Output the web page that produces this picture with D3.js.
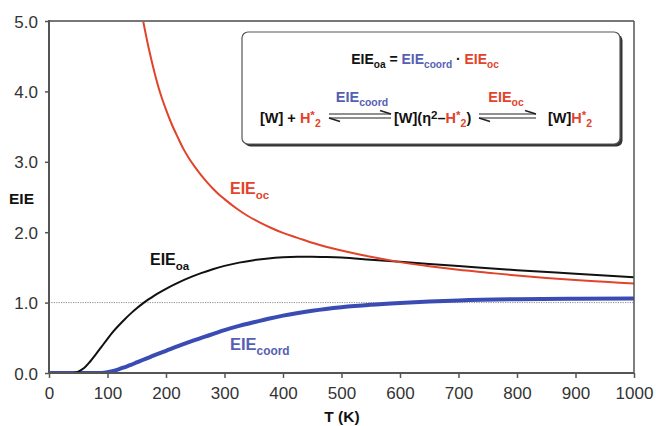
<!DOCTYPE html>
<html><head><meta charset="utf-8">
<script src="https://cdn.jsdelivr.net/npm/d3@7"></script>
<style>body{margin:0;background:#fff}svg{display:block}</style>
</head><body><svg id="c" width="656" height="426"></svg>
<script>
// Data
const ocT = [160,170,180,190,200,210,220,230,240,250,260,270,280,290,300,320,340,360,380,400,425,450,475,500,550,600,650,700,750,800,850,900,950,1000];
const ocV = [5.04,4.63,4.28,3.98,3.74,3.53,3.35,3.18,3.04,2.92,2.81,2.71,2.62,2.54,2.47,2.34,2.23,2.14,2.06,1.99,1.92,1.85,1.79,1.74,1.65,1.575,1.515,1.465,1.425,1.385,1.35,1.32,1.295,1.27];
const oaT = [0,40,50,60,70,80,90,100,110,120,130,140,150,160,170,180,190,200,220,240,260,280,300,325,350,375,400,425,450,475,500,550,600,650,700,800,900,1000];
const oaV = [0,0,0.02,0.07,0.16,0.265,0.375,0.485,0.59,0.682,0.768,0.847,0.919,0.985,1.045,1.10,1.15,1.196,1.28,1.354,1.418,1.474,1.522,1.568,1.603,1.628,1.643,1.651,1.653,1.648,1.64,1.61,1.58,1.55,1.52,1.46,1.41,1.36];
const coT = [0,90,100,110,120,130,140,150,160,175,200,225,250,275,300,325,350,375,400,450,500,550,600,650,700,800,900,1000];
const coV = [0,0,0.01,0.03,0.055,0.085,0.115,0.15,0.185,0.235,0.315,0.395,0.47,0.54,0.61,0.67,0.72,0.77,0.815,0.885,0.935,0.97,0.995,1.015,1.03,1.048,1.056,1.06];
const xTicks = [0,100,200,300,400,500,600,700,800,900,1000];
const yTicks = [0,1,2,3,4,5];

const RED = "#e2432b", BLUE = "#3a4cb4", LBLUE = "#5560b4", BLACK = "#111";
const svg = d3.select("#c");
const L = 49, R = 634, T = 21, B = 373;
const x = d3.scaleLinear().domain([0,1000]).range([L,R]);
const y = d3.scaleLinear().domain([0,5]).range([B,T]);

// dotted reference line at EIE = 1
svg.append("line").attr("x1",L).attr("x2",R).attr("y1",y(1)).attr("y2",y(1))
  .attr("stroke","#8a8a8a").attr("stroke-width",1).attr("stroke-dasharray","1.2,1.2");

svg.append("clipPath").attr("id","pc").append("rect")
  .attr("x",L).attr("y",T).attr("width",R-L).attr("height",B-T);

const line = d3.line().x(d=>x(d[0])).y(d=>y(d[1])).curve(d3.curveMonotoneX);
const g = svg.append("g").attr("clip-path","url(#pc)");
g.append("path").datum(d3.zip(coT,coV)).attr("d",line).attr("fill","none").attr("stroke",BLUE).attr("stroke-width",4);
g.append("path").datum(d3.zip(oaT,oaV)).attr("d",line).attr("fill","none").attr("stroke",BLACK).attr("stroke-width",2);
g.append("path").datum(d3.zip(ocT,ocV)).attr("d",line).attr("fill","none").attr("stroke",RED).attr("stroke-width",2);

// axes
const font = "'Liberation Sans', Arial, sans-serif";
const ya = svg.append("g").attr("transform",`translate(${L},0)`)
  .call(d3.axisLeft(y).tickValues(yTicks).tickSize(4).tickFormat(d3.format(".1f")));
const xa = svg.append("g").attr("transform",`translate(0,${B})`)
  .call(d3.axisBottom(x).tickValues(xTicks).tickSize(5).tickFormat(d=>d));
[ya,xa].forEach(a=>{
  a.select(".domain").remove();
  a.selectAll(".tick line").attr("stroke","#555").attr("stroke-width",1.5);
  a.selectAll(".tick text").attr("font-family",font).attr("font-size",17).attr("fill","#333");
});
ya.selectAll(".tick text").attr("x",-11).attr("dy","0.36em");
xa.selectAll(".tick text").attr("y",14).attr("dy","0.71em");

// frame
svg.append("line").attr("x1",L).attr("x2",R).attr("y1",T).attr("y2",T).attr("stroke","#777").attr("stroke-width",2);
svg.append("line").attr("x1",R).attr("x2",R).attr("y1",T).attr("y2",B).attr("stroke","#555").attr("stroke-width",1.5);
svg.append("line").attr("x1",L).attr("x2",L).attr("y1",T-1).attr("y2",B+1).attr("stroke","#555").attr("stroke-width",2);
svg.append("line").attr("x1",L-1).attr("x2",R).attr("y1",B).attr("y2",B).attr("stroke","#555").attr("stroke-width",2);

// axis titles
svg.append("text").attr("x",9).attr("y",204).text("EIE").attr("font-family",font).attr("font-weight","bold").attr("font-size",15.5).attr("fill","#111");
svg.append("text").attr("x",342).attr("y",422).attr("text-anchor","middle").text("T (K)").attr("font-family",font).attr("font-weight","bold").attr("font-size",15.5).attr("fill","#111");

// rich text helper: parts = [[text, color, mode]] mode: n, sub, sup
function rich(parent, xx, yy, parts, size, anchor){
  const t = parent.append("text").attr("x",xx).attr("y",yy).attr("font-family",font)
    .attr("font-weight","bold").attr("font-size",size).attr("text-anchor",anchor||"start");
  let shift = 0;
  parts.forEach(p=>{
    const s = t.append("tspan").text(p[0]).attr("fill",p[1]);
    const m = p[2]||"n";
    let target = m==="sub" ? size*0.3 : m==="sup" ? -size*0.3 : 0;
    if (target!==shift) { s.attr("dy",target-shift); shift = target; }
    if (m!=="n") s.attr("font-size",size*(m==="sup"?0.8:0.72));
  });
  return t;
}

// curve labels
rich(svg,230,194,[["EIE",RED],["oc",RED,"sub"]],16);
rich(svg,150,265,[["EIE",BLACK],["oa",BLACK,"sub"]],16);
rich(svg,230,350,[["EIE",LBLUE],["coord",LBLUE,"sub"]],16.5);

// legend box
const bx=242, by=32, bw=378, bh=112;
svg.append("rect").attr("x",bx+2.5).attr("y",by+2.5).attr("width",bw).attr("height",bh).attr("rx",6).attr("fill","#333");
svg.append("rect").attr("x",bx).attr("y",by).attr("width",bw).attr("height",bh).attr("rx",6).attr("fill","#fff").attr("stroke","#555").attr("stroke-width",1.2);

rich(svg,425,64,[["EIE",BLACK],["oa",BLACK,"sub"],[" = ",BLACK],["EIE",LBLUE],["coord",LBLUE,"sub"],[" · ",BLACK],["EIE",RED],["oc",RED,"sub"]],14,"middle");

rich(svg,362,102,[["EIE",LBLUE],["coord",LBLUE,"sub"]],14.5,"middle");
rich(svg,506,102,[["EIE",RED],["oc",RED,"sub"]],14.5,"middle");

rich(svg,260,123,[["[W] + ",BLACK],["H",RED],["*",RED,"sup"],["2",RED,"sub"]],14.5);
rich(svg,394,123,[["[W](η",BLACK],["2",BLACK,"sup"],["–",BLACK],["H",RED],["*",RED,"sup"],["2",RED,"sub"],[")",BLACK]],14.5);
rich(svg,548,123,[["[W]",BLACK],["H",RED],["*",RED,"sup"],["2",RED,"sub"]],14.5);

// equilibrium harpoons
function harpoons(x1,x2,yc){
  const a = svg.append("g").attr("stroke","#222").attr("stroke-width",1.1).attr("fill","none");
  a.append("line").attr("x1",x1).attr("x2",x2).attr("y1",yc-2).attr("y2",yc-2);
  a.append("path").attr("d",`M${x2-11},${yc-5.5} L${x2},${yc-2}`).attr("stroke-width",1.6);
  a.append("line").attr("x1",x1).attr("x2",x2).attr("y1",yc+2).attr("y2",yc+2);
  a.append("path").attr("d",`M${x1+11},${yc+5.5} L${x1},${yc+2}`).attr("stroke-width",1.6);
}
harpoons(329,391,116);
harpoons(479,536,116);
</script></body></html>
